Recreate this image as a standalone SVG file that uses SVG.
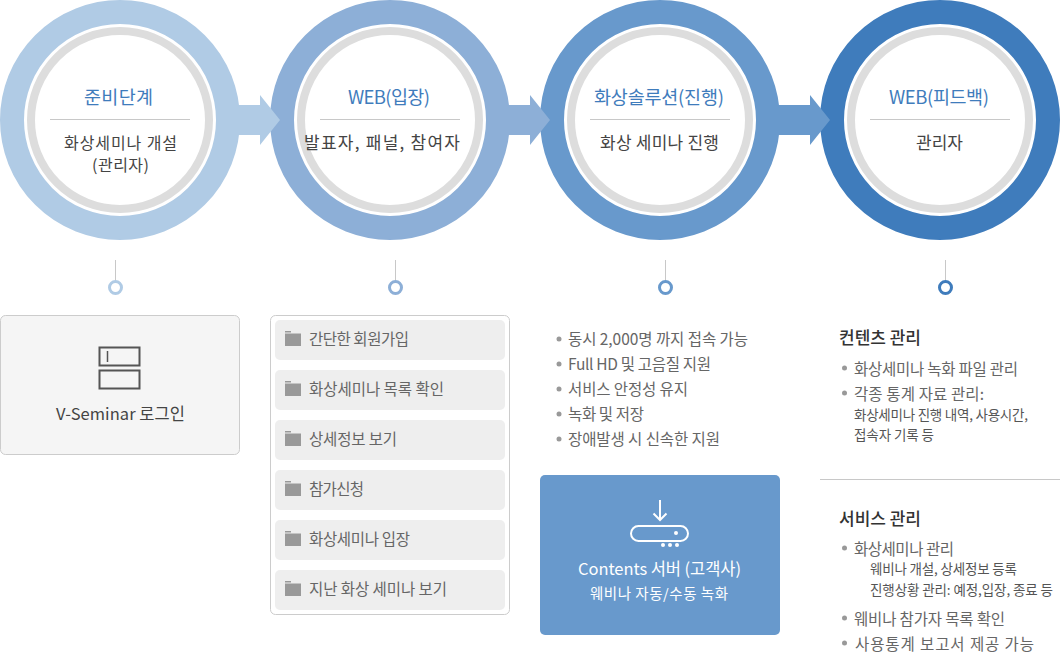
<svg xmlns="http://www.w3.org/2000/svg" width="1060" height="652" viewBox="0 0 1060 652">
<style>
text{font-family:"Noto Sans CJK KR","Noto Sans",sans-serif;font-weight:400;fill:#444}
.t{font-size:18.500px;fill:#3f7cbc}
.b{font-size:17px;fill:#444}
.b2{font-size:16px;fill:#444}
.li{font-size:15.500px;fill:#666}
.sm{font-size:13.500px;fill:#555}
.h{font-size:17px;font-weight:500;fill:#333}
.d{fill:#999}
.g{fill:none;stroke:#ddd;stroke-width:8}
.dv{stroke:#c8c8c8;stroke-width:1}
.row{fill:#eee}
.f{fill:#999}
.w{fill:#fff}
.wl{fill:none;stroke:#fff;stroke-width:2}
</style>
<g id="step1">
<circle cx="120" cy="120" r="108" fill="none" stroke="#b0cbe5" stroke-width="24"/>
<circle cx="120" cy="120" r="89" class="g"/>
<text x="84" y="104" class="t" textLength="69">준비단계</text>
<path class="dv" d="M50 119.500H190"/>
<text x="64" y="149" class="b2" textLength="113">화상세미나 개설</text>
<text x="92" y="171" class="b2" textLength="57">(관리자)</text>
</g>
<g id="step2">
<circle cx="390" cy="120" r="108" fill="none" stroke="#8dafd7" stroke-width="24"/>
<circle cx="390" cy="120" r="89" class="g"/>
<text x="348" y="104" class="t" textLength="82">WEB(입장)</text>
<path class="dv" d="M320 119.500H460"/>
<text x="304" y="149" class="b" textLength="156">발표자, 패널, 참여자</text>
</g>
<g id="step3">
<circle cx="660" cy="120" r="108" fill="none" stroke="#6899cc" stroke-width="24"/>
<circle cx="660" cy="120" r="89" class="g"/>
<text x="594" y="104" class="t" textLength="130">화상솔루션(진행)</text>
<path class="dv" d="M590 119.500H730"/>
<text x="600" y="149" class="b" textLength="119">화상 세미나 진행</text>
</g>
<g id="step4">
<circle cx="940" cy="120" r="108" fill="none" stroke="#3f7cbc" stroke-width="24"/>
<circle cx="940" cy="120" r="89" class="g"/>
<text x="889" y="104" class="t" textLength="100">WEB(피드백)</text>
<path class="dv" d="M870 119.500H1010"/>
<text x="916" y="149" class="b" textLength="47">관리자</text>
</g>
<g id="connectors">
<path d="M239 105H260V95L280 120L260 145V135H239Z" fill="#b0cbe5"/>
<path d="M509 105H530V95L550 120L530 145V135H509Z" fill="#8dafd7"/>
<path d="M779 105H810V95L830 120L810 145V135H779Z" fill="#6899cc"/>
<path class="dv" d="M115.500 260V281M395.500 260V281M665.500 260V281M945.500 260V281" fill="none"/>
<g fill="#fff" stroke-width="3">
<circle cx="115.500" cy="287.500" r="6" stroke="#b0cbe5"/>
<circle cx="395.500" cy="287.500" r="6" stroke="#8dafd7"/>
<circle cx="665.500" cy="287.500" r="6" stroke="#6899cc"/>
<circle cx="945.500" cy="287.500" r="6" stroke="#3f7cbc"/>
</g>
</g>
<g id="login">
<rect x="0.500" y="315.500" width="239" height="139" rx="5" fill="#f5f5f5" stroke="#ccc"/>
<g fill="none" stroke="#555" stroke-width="2">
<rect x="99.500" y="347.500" width="40" height="18"/>
<rect x="99.500" y="370.500" width="40" height="18"/>
<path d="M107.500 351V362" stroke-width="1.500"/>
</g>
<text x="56" y="420" style="font-size:16.500px" textLength="129">V-Seminar 로그인</text>
</g>
<defs><g id="fold"><rect class="f" x="285" y="331" width="6" height="1.500"/><rect class="f" x="285" y="333.500" width="16" height="12.500"/></g></defs>
<g id="menu">
<rect x="270.500" y="315.500" width="239" height="299" rx="5" fill="#fff" stroke="#ccc"/>
<g id="menu1"><rect class="row" x="275" y="320" width="230" height="40" rx="5"/><use href="#fold"/><text x="309" y="345" class="li" textLength="100">간단한 회원가입</text></g>
<g id="menu2"><rect class="row" x="275" y="370" width="230" height="40" rx="5"/><use href="#fold" y="50"/><text x="309" y="395" class="li" textLength="135">화상세미나 목록 확인</text></g>
<g id="menu3"><rect class="row" x="275" y="420" width="230" height="40" rx="5"/><use href="#fold" y="100"/><text x="309" y="445" class="li" textLength="88">상세정보 보기</text></g>
<g id="menu4"><rect class="row" x="275" y="470" width="230" height="40" rx="5"/><use href="#fold" y="150"/><text x="309" y="495" class="li" textLength="55">참가신청</text></g>
<g id="menu5"><rect class="row" x="275" y="520" width="230" height="40" rx="5"/><use href="#fold" y="200"/><text x="309" y="545" class="li" textLength="101">화상세미나 입장</text></g>
<g id="menu6"><rect class="row" x="275" y="570" width="230" height="40" rx="5"/><use href="#fold" y="250"/><text x="309" y="595" class="li" textLength="138">지난 화상 세미나 보기</text></g>
</g>
<g id="features">
<g class="d"><circle cx="559" cy="339" r="2.500"/><circle cx="559" cy="364" r="2.500"/><circle cx="559" cy="389" r="2.500"/><circle cx="559" cy="414" r="2.500"/><circle cx="559" cy="439" r="2.500"/></g>
<text x="568" y="345" class="li" textLength="180">동시 2,000명 까지 접속 가능</text>
<text x="568" y="370" class="li" textLength="143">Full HD 및 고음질 지원</text>
<text x="568" y="395" class="li" textLength="120">서비스 안정성 유지</text>
<text x="568" y="420" class="li" textLength="76">녹화 및 저장</text>
<text x="568" y="445" class="li" textLength="152">장애발생 시 신속한 지원</text>
</g>
<g id="server">
<rect x="540" y="475" width="240" height="160" rx="5" fill="#6899cc"/>
<path class="wl" d="M660 500V520M653.500 513.500L660 520L666.500 513.500"/>
<rect class="wl" x="631" y="526" width="57" height="15" rx="7.500"/>
<circle class="w" cx="676" cy="533" r="2"/>
<circle class="w" cx="663" cy="545" r="2"/><circle class="w" cx="670" cy="545" r="2"/><circle class="w" cx="677" cy="545" r="2"/>
<text x="578" y="575" style="font-size:16.500px;fill:#fff" textLength="163">Contents 서버 (고객사)</text>
<text x="590" y="599" style="font-size:14.500px;fill:#fff" textLength="138">웨비나 자동/수동 녹화</text>
</g>
<g id="content-mgmt">
<text x="839" y="344" class="h" textLength="82">컨텐츠 관리</text>
<circle class="d" cx="844.500" cy="368" r="2.500"/>
<text x="854" y="375" class="li" textLength="164">화상세미나 녹화 파일 관리</text>
<circle class="d" cx="844.500" cy="393" r="2.500"/>
<text x="854" y="400" class="li" textLength="130">각종 통계 자료 관리:</text>
<text x="854" y="420" class="sm" textLength="174">화상세미나 진행 내역, 사용시간,</text>
<text x="854" y="440" class="sm" textLength="80">접속자 기록 등</text>
</g>
<path class="dv" d="M820 479.500H1060"/>
<g id="service-mgmt">
<text x="839" y="525" class="h" textLength="82">서비스 관리</text>
<circle class="d" cx="844.500" cy="548" r="2.500"/>
<text x="854" y="555" class="li" textLength="100">화상세미나 관리</text>
<text x="870" y="574" class="sm" textLength="147">웨비나 개설, 상세정보 등록</text>
<text x="870" y="595" class="sm" textLength="183">진행상황 관리: 예정,입장, 종료 등</text>
<circle class="d" cx="844.500" cy="618" r="2.500"/>
<text x="854" y="625" class="li" textLength="151">웨비나 참가자 목록 확인</text>
<circle class="d" cx="844.500" cy="643" r="2.500"/>
<text x="855" y="650" class="li" textLength="179">사용통계 보고서 제공 가능</text>
</g>
</svg>
